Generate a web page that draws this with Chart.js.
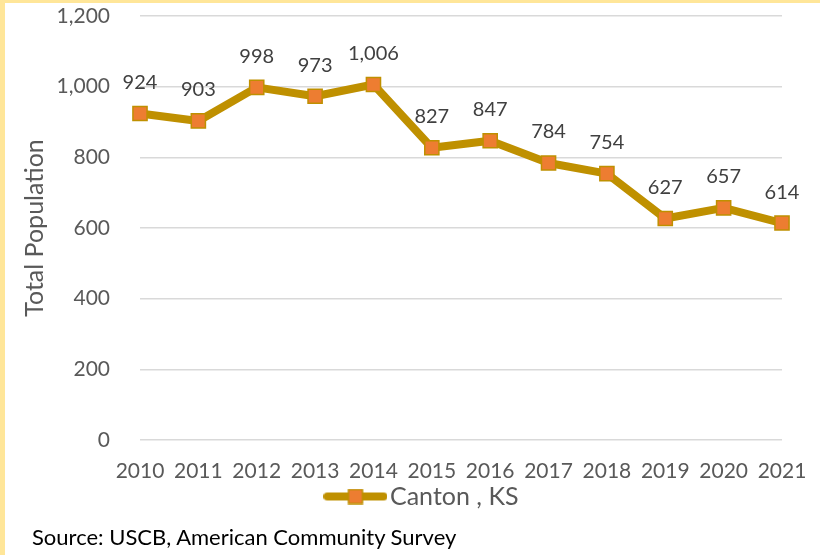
<!DOCTYPE html>
<html>
<head>
<meta charset="utf-8">
<script src="https://cdn.jsdelivr.net/npm/chart.js@4"></script>
<style>
  html, body { margin: 0; padding: 0; background: #fff; }
  #wrap { position: relative; width: 815px; height: 552px; border-top: 3px solid #FFE699; border-left: 5px solid #FFE699; }
  canvas { display: block; }
  #source { position: absolute; left: 27px; top: 521px; font-family: Lato, "Open Sans", sans-serif; font-size: 22px; line-height: 26px; color: #000; white-space: nowrap; }
</style>
</head>
<body>
<div id="wrap">
  <canvas id="c" width="815" height="552"></canvas>
  <div id="source">Source: USCB, American Community Survey</div>
</div>
<script>
const years = ['2010','2011','2012','2013','2014','2015','2016','2017','2018','2019','2020','2021'];
const population = [924, 903, 998, 973, 1006, 827, 847, 784, 754, 627, 657, 614];
const seriesName = 'Canton , KS';
const yTitle = 'Total Population';

const LINE = '#BF9000';
const MARK = '#ED7D31';
const FONT = 'Lato, "Open Sans", sans-serif';

// legend symbol: line with square marker
const sym = document.createElement('canvas');
sym.width = 64; sym.height = 16;
(function(){
  const g = sym.getContext('2d');
  g.strokeStyle = LINE; g.lineWidth = 8; g.lineCap = 'round';
  g.beginPath(); g.moveTo(4, 8); g.lineTo(60, 8); g.stroke();
  g.fillStyle = MARK; g.fillRect(25, 1, 14, 14);
  g.strokeStyle = LINE; g.lineWidth = 1.5; g.strokeRect(25, 1, 14, 14);
})();

const dataLabels = {
  id: 'dataLabels',
  afterDatasetsDraw(chart) {
    const ctx = chart.ctx;
    const meta = chart.getDatasetMeta(0);
    ctx.save();
    ctx.font = '20px ' + FONT;
    ctx.fillStyle = '#404040';
    ctx.textAlign = 'center';
    ctx.textBaseline = 'middle';
    meta.data.forEach((pt, i) => {
      ctx.fillText(population[i].toLocaleString('en-US'), pt.x, pt.y - 31);
    });
    ctx.restore();
  }
};

new Chart(document.getElementById('c'), {
  type: 'line',
  data: {
    labels: years,
    datasets: [{
      label: seriesName,
      data: population,
      borderColor: LINE,
      backgroundColor: MARK,
      borderWidth: 8,
      borderJoinStyle: 'round',
      tension: 0,
      pointStyle: 'rect',
      pointRadius: 10,
      pointHoverRadius: 10,
      pointBackgroundColor: MARK,
      pointBorderColor: LINE,
      pointBorderWidth: 1.5
    }]
  },
  options: {
    responsive: false,
    animation: false,
    events: [],
    layout: { padding: { left: 27, right: 0, top: 13, bottom: 36 } },
    scales: {
      x: {
        offset: false,
        grid: { display: false },
        border: { display: false },
        ticks: { color: '#595959', font: { family: FONT, size: 21 }, padding: 11, maxRotation: 0, autoSkip: false },
        afterFit: s => { s.height = 41; }
      },
      y: {
        min: 0, max: 1200,
        ticks: { stepSize: 200, color: '#595959', font: { family: FONT, size: 21 }, padding: 30 },
        grid: { color: '#D9D9D9', lineWidth: 1.5, drawTicks: false },
        border: { display: false },
        title: { display: true, text: yTitle, color: '#595959', font: { family: FONT, size: 25, lineHeight: 0.24 }, padding: { top: 0, bottom: 0 } },
        afterFit: s => { s.width = 108; s.paddingTop = 0; s.paddingBottom = 0; }
      },
      y2: {
        type: 'linear',
        position: 'right',
        display: true,
        grid: { display: false },
        border: { display: false },
        ticks: { display: false },
        afterFit: s => { s.width = 38; s.paddingTop = 0; s.paddingBottom = 0; }
      }
    },
    plugins: {
      legend: {
        position: 'bottom',
        labels: {
          usePointStyle: true,
          pointStyle: sym,
          pointStyleWidth: 44,
          boxHeight: 16,
          color: '#595959',
          font: { family: FONT, size: 25 },
          padding: 3
        }
      },
      tooltip: { enabled: false },
      title: { display: false }
    }
  },
  plugins: [dataLabels]
});
</script>
</body>
</html>
